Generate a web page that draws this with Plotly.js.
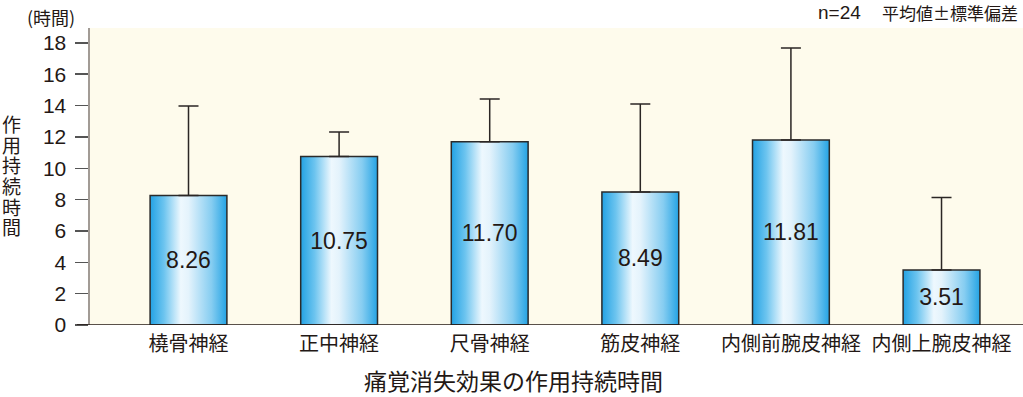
<!DOCTYPE html>
<html>
<head>
<meta charset="utf-8">
<script src="https://cdn.plot.ly/plotly-3.0.1.min.js"></script>
<style>
html,body{margin:0;padding:0;background:#fff;}
#chart{width:1023px;height:397px;}
</style>
</head>
<body>
<div id="chart"></div>
<script>
const categories = ['橈骨神経','正中神経','尺骨神経','筋皮神経','内側前腕皮神経','内側上腕皮神経'];
const means = [8.26, 10.75, 11.70, 8.49, 11.81, 3.51];
const sds = [5.72, 1.57, 2.72, 5.61, 5.87, 4.62];
const meanLabels = ['8.26', '10.75', '11.70', '8.49', '11.81', '3.51'];
const yTickVals = [0, 2, 4, 6, 8, 10, 12, 14, 16, 18];
const yTickText = ['0', '2', '4', '6', '8', '10', '12', '14', '16', '18'];
const yTitle = '作用持続時間';
const unitLabel = '(時間)';
const nLabel = 'n=24';
const statLabel = '平均値±標準偏差';
const xTitle = '痛覚消失効果の作用持続時間';

const FONT = '"Liberation Sans", "Noto Sans CJK JP", sans-serif';
const JFONT = '"Noto Sans CJK JP", "Liberation Sans", sans-serif';
const TXT = '#231815';

// plot area geometry (pixels)
const ML = 90, MT = 28, MB = 72, W = 1023, H = 397;
const PW = W - ML, PH = H - MT - MB;
const px2x = function (px) { return (px - ML) / PW; };
const px2y = function (py) { return (H - MB - py) / PH; };

const trace = {
  type: 'bar',
  x: categories,
  y: means,
  width: 0.51,
  text: meanLabels,
  textposition: 'inside',
  insidetextanchor: 'middle',
  textangle: 0,
  constraintext: 'none',
  textfont: {family: FONT, size: 23, color: TXT},
  marker: {color: '#3aaee8', line: {color: '#2b2b2b', width: 1.5}},
  error_y: {
    type: 'data', symmetric: false,
    array: sds, arrayminus: sds.map(function () { return 0; }),
    color: '#2b2624', thickness: 1.5, width: 10
  },
  hoverinfo: 'none'
};

const annotations = [
  {text: unitLabel, xref: 'paper', yref: 'paper', x: px2x(51), y: px2y(17),
   xanchor: 'center', yanchor: 'middle', showarrow: false,
   font: {family: JFONT, size: 18, color: TXT}},
  {text: nLabel, xref: 'paper', yref: 'paper', x: px2x(863), y: px2y(12),
   xanchor: 'right', yanchor: 'middle', showarrow: false,
   font: {family: FONT, size: 19, color: TXT}},
  {text: statLabel, xref: 'paper', yref: 'paper', x: px2x(1020), y: px2y(12),
   xanchor: 'right', yanchor: 'middle', showarrow: false,
   font: {family: JFONT, size: 17, color: TXT}},
  {text: xTitle, xref: 'paper', yref: 'paper', x: px2x(513), y: px2y(380),
   xanchor: 'center', yanchor: 'middle', showarrow: false,
   font: {family: JFONT, size: 23, color: TXT}}
];
Array.from(yTitle).forEach(function (ch, i) {
  annotations.push({
    text: ch, xref: 'paper', yref: 'paper', x: px2x(11), y: px2y(123.5 + i * 20.7),
    xanchor: 'center', yanchor: 'middle', showarrow: false,
    font: {family: JFONT, size: 19, color: TXT}
  });
});

const layout = {
  width: W, height: H,
  margin: {l: ML, r: 0, t: MT, b: MB},
  paper_bgcolor: '#ffffff',
  plot_bgcolor: '#fefbec',
  showlegend: false,
  font: {family: JFONT, color: TXT},
  xaxis: {
    type: 'category',
    range: [-0.654, 5.541],
    showgrid: false, zeroline: false, showline: false,
    ticks: '',
    ticklabelstandoff: 5,
    tickfont: {family: JFONT, size: 20, color: TXT},
    fixedrange: true
  },
  yaxis: {
    range: [0, 18.95],
    tickvals: yTickVals, ticktext: yTickText,
    ticks: 'outside', ticklen: 13, tickwidth: 1.5, tickcolor: '#555',
    ticklabelstandoff: 4,
    showline: true, linecolor: '#a29b95', linewidth: 2.5,
    showgrid: false, zeroline: false,
    tickfont: {family: FONT, size: 21, color: TXT},
    fixedrange: true
  },
  shapes: [{
    type: 'line', xref: 'paper', yref: 'y',
    x0: px2x(77), x1: 1, y0: 0, y1: 0,
    line: {color: TXT, width: 1.5}, layer: 'above'
  }],
  annotations: annotations
};

Plotly.newPlot('chart', [trace], layout, {displayModeBar: false, staticPlot: true, responsive: false}).then(function (gd) {
  const ns = 'http://www.w3.org/2000/svg';
  const svg = gd.querySelector('.main-svg');
  let defs = svg.querySelector('defs');
  if (!defs) { defs = document.createElementNS(ns, 'defs'); svg.insertBefore(defs, svg.firstChild); }
  const grad = document.createElementNS(ns, 'linearGradient');
  grad.setAttribute('id', 'barGrad');
  grad.setAttribute('x1', '0'); grad.setAttribute('y1', '0');
  grad.setAttribute('x2', '1'); grad.setAttribute('y2', '0');
  [['0', '#23a2e4'], ['0.18', '#6cc4ef'], ['0.4', '#eef8fe'], ['0.5', '#e4f3fc'], ['0.8', '#86cdf1'], ['1', '#24a3e4']].forEach(function (s) {
    const st = document.createElementNS(ns, 'stop');
    st.setAttribute('offset', s[0]);
    st.setAttribute('stop-color', s[1]);
    grad.appendChild(st);
  });
  defs.appendChild(grad);
  gd.querySelectorAll('.bars .point path').forEach(function (p) {
    p.style.fill = 'url(#barGrad)';
  });
});
</script>
</body>
</html>
